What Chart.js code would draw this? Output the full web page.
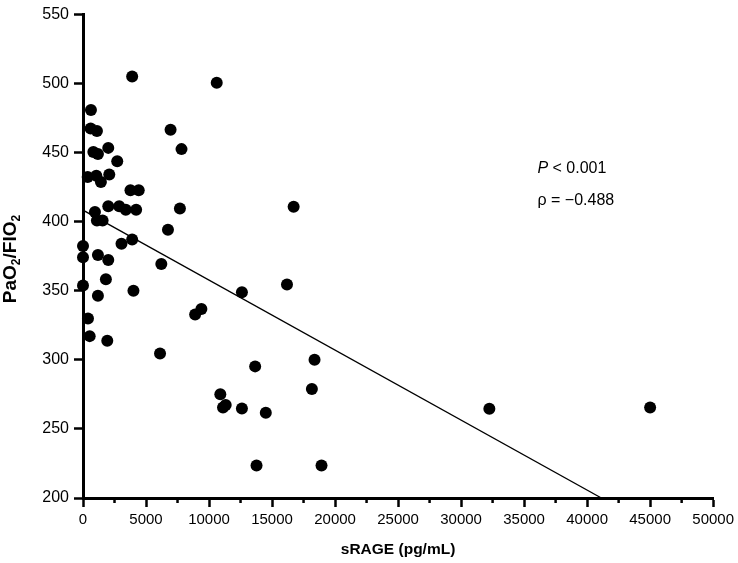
<!DOCTYPE html>
<html>
<head>
<meta charset="utf-8">
<title>sRAGE vs PaO2/FIO2</title>
<script src="https://cdn.jsdelivr.net/npm/chart.js@4.4.1/dist/chart.umd.min.js"></script>
<style>
    html, body { margin: 0; padding: 0; background: #fff; }
    #wrap { width: 738px; height: 563px; }
</style>
</head>
<body>
<div id="wrap"><canvas id="grafico" width="738" height="563"></canvas></div>
<script>
// sRAGE (pg/mL) de cada paciente
const sRage = [
    632, 608, 1105, 6948, 7816, 2005, 821, 1184, 2716, 371,
    1058, 1421, 2084, 3766, 4421, 2005, 2874, 3395, 4216, 7690,
    947, 1105, 1555, 6742, 0, 3055, 3900, 0, 1184, 2005,
    6213, 1816, 0, 1184, 4003, 395, 529, 1926, 6111, 8898,
    9395, 3900, 10611, 12609, 16186, 18372, 13659, 18160, 10896, 11322,
    11109, 12609, 14504, 13769, 18925, 16714, 32243, 45000
];
// PaO2/FIO2 de cada paciente
const pafi = [
    481, 467.5, 465.7, 466.7, 452.6, 453.5, 450.6, 449, 443.9, 432.4,
    433.3, 428.8, 434.3, 422.8, 422.8, 411.3, 411.3, 408.7, 408.7, 409.6,
    407, 400.9, 400.9, 394.2, 382.5, 384.1, 387.2, 374.3, 376, 372.4,
    369.4, 358.4, 353.9, 346.5, 350.1, 329.9, 317.2, 313.8, 304.7, 332.8,
    336.8, 505.1, 500.6, 348.9, 354.6, 300.1, 295.3, 279, 275.2, 267.3,
    265.5, 264.8, 261.7, 223.5, 223.5, 410.8, 264.6, 265.5
];
// Recta de regresión (extremos)
const rectaX = [0, 41130];
const rectaY = [408.4, 200];

const ticksX = [0, 5000, 10000, 15000, 20000, 25000, 30000, 35000, 40000, 45000, 50000];
const ticksY = [200, 250, 300, 350, 400, 450, 500, 550];

const FUENTE = '"Liberation Sans", Arial, Helvetica, sans-serif';

// Marcas menores del eje X y textos extra
const extras = {
    id: 'extras',
    afterDraw(chart) {
        const ctx = chart.ctx;
        const x = chart.scales.x;
        const y = chart.scales.y;
        const area = chart.chartArea;
        ctx.save();

        // marcas menores
        ctx.strokeStyle = '#000';
        ctx.lineWidth = 2.5;
        for (let i = 0; i < ticksX.length - 1; i++) {
            const px = x.getPixelForValue((ticksX[i] + ticksX[i + 1]) / 2);
            ctx.beginPath();
            ctx.moveTo(px, area.bottom);
            ctx.lineTo(px, area.bottom + 5);
            ctx.stroke();
        }

        // título del eje Y con subíndices
        const partes = [
            ['PaO', false], ['2', true], ['/FIO', false], ['2', true]
        ];
        const fNormal = 'bold 19px ' + FUENTE;
        const fSub = 'bold 12px ' + FUENTE;
        let total = 0;
        partes.forEach(p => {
            ctx.font = p[1] ? fSub : fNormal;
            total += ctx.measureText(p[0]).width;
        });
        ctx.translate(11, 259);
        ctx.rotate(-Math.PI / 2);
        ctx.fillStyle = '#000';
        ctx.textBaseline = 'middle';
        ctx.textAlign = 'left';
        let pos = -total / 2;
        partes.forEach(p => {
            ctx.font = p[1] ? fSub : fNormal;
            ctx.fillText(p[0], pos, p[1] ? 6 : 0);
            pos += ctx.measureText(p[0]).width;
        });
        ctx.restore();

        // estadísticos
        ctx.save();
        ctx.fillStyle = '#000';
        ctx.textBaseline = 'middle';
        ctx.textAlign = 'left';
        const tx = x.getPixelForValue(36060);
        const ty1 = y.getPixelForValue(438.8);
        const ty2 = y.getPixelForValue(415);
        ctx.font = 'italic 16px ' + FUENTE;
        ctx.fillText('P', tx, ty1);
        const wP = ctx.measureText('P').width;
        ctx.font = '16px ' + FUENTE;
        ctx.fillText(' < 0.001', tx + wP, ty1);
        ctx.fillText('ρ = −0.488', tx, ty2);
        ctx.restore();
    }
};

const puntos = sRage.map((v, i) => ({ x: v, y: pafi[i] }));
const recta = rectaX.map((v, i) => ({ x: v, y: rectaY[i] }));

new Chart(document.getElementById('grafico').getContext('2d'), {
    type: 'scatter',
    data: {
        datasets: [
            {
                label: 'Pacientes',
                data: puntos,
                backgroundColor: '#000',
                borderWidth: 0,
                pointRadius: 6,
                pointHoverRadius: 6,
                clip: false
            },
            {
                type: 'line',
                label: 'Regresión',
                data: recta,
                borderColor: '#000',
                borderWidth: 1.4,
                pointRadius: 0,
                fill: false,
                clip: false
            }
        ]
    },
    options: {
        responsive: false,
        animation: false,
        events: [],
        layout: { padding: { top: 11, right: 22, left: 0, bottom: 0 } },
        plugins: {
            legend: { display: false },
            tooltip: { enabled: false }
        },
        scales: {
            x: {
                type: 'linear',
                min: 0,
                max: 50000,
                afterBuildTicks: s => { s.ticks = ticksX.map(v => ({ value: v })); },
                afterFit: s => { s.height = 65; },
                ticks: {
                    color: '#000',
                    font: { family: FUENTE, size: 15 },
                    padding: 4,
                    maxRotation: 0,
                    autoSkip: false,
                    callback: v => String(v)
                },
                grid: {
                    drawOnChartArea: false,
                    drawTicks: true,
                    tickLength: 9,
                    tickColor: '#000',
                    tickWidth: 2.5
                },
                border: { display: true, color: '#000', width: 3 },
                title: {
                    display: true,
                    text: 'sRAGE (pg/mL)',
                    color: '#000',
                    font: { family: FUENTE, size: 15.5, weight: 'bold' },
                    padding: { top: 4, bottom: 4 }
                }
            },
            y: {
                type: 'linear',
                min: 200,
                max: 550,
                afterBuildTicks: s => { s.ticks = ticksY.map(v => ({ value: v })); },
                afterFit: s => { s.width = 83; },
                ticks: {
                    color: '#000',
                    font: { family: FUENTE, size: 16 },
                    padding: 5,
                    callback: v => String(v)
                },
                grid: {
                    drawOnChartArea: false,
                    drawTicks: true,
                    tickLength: 9,
                    tickColor: '#000',
                    tickWidth: 2.5
                },
                border: { display: true, color: '#000', width: 3 }
            }
        }
    },
    plugins: [extras]
});
</script>
</body>
</html>
